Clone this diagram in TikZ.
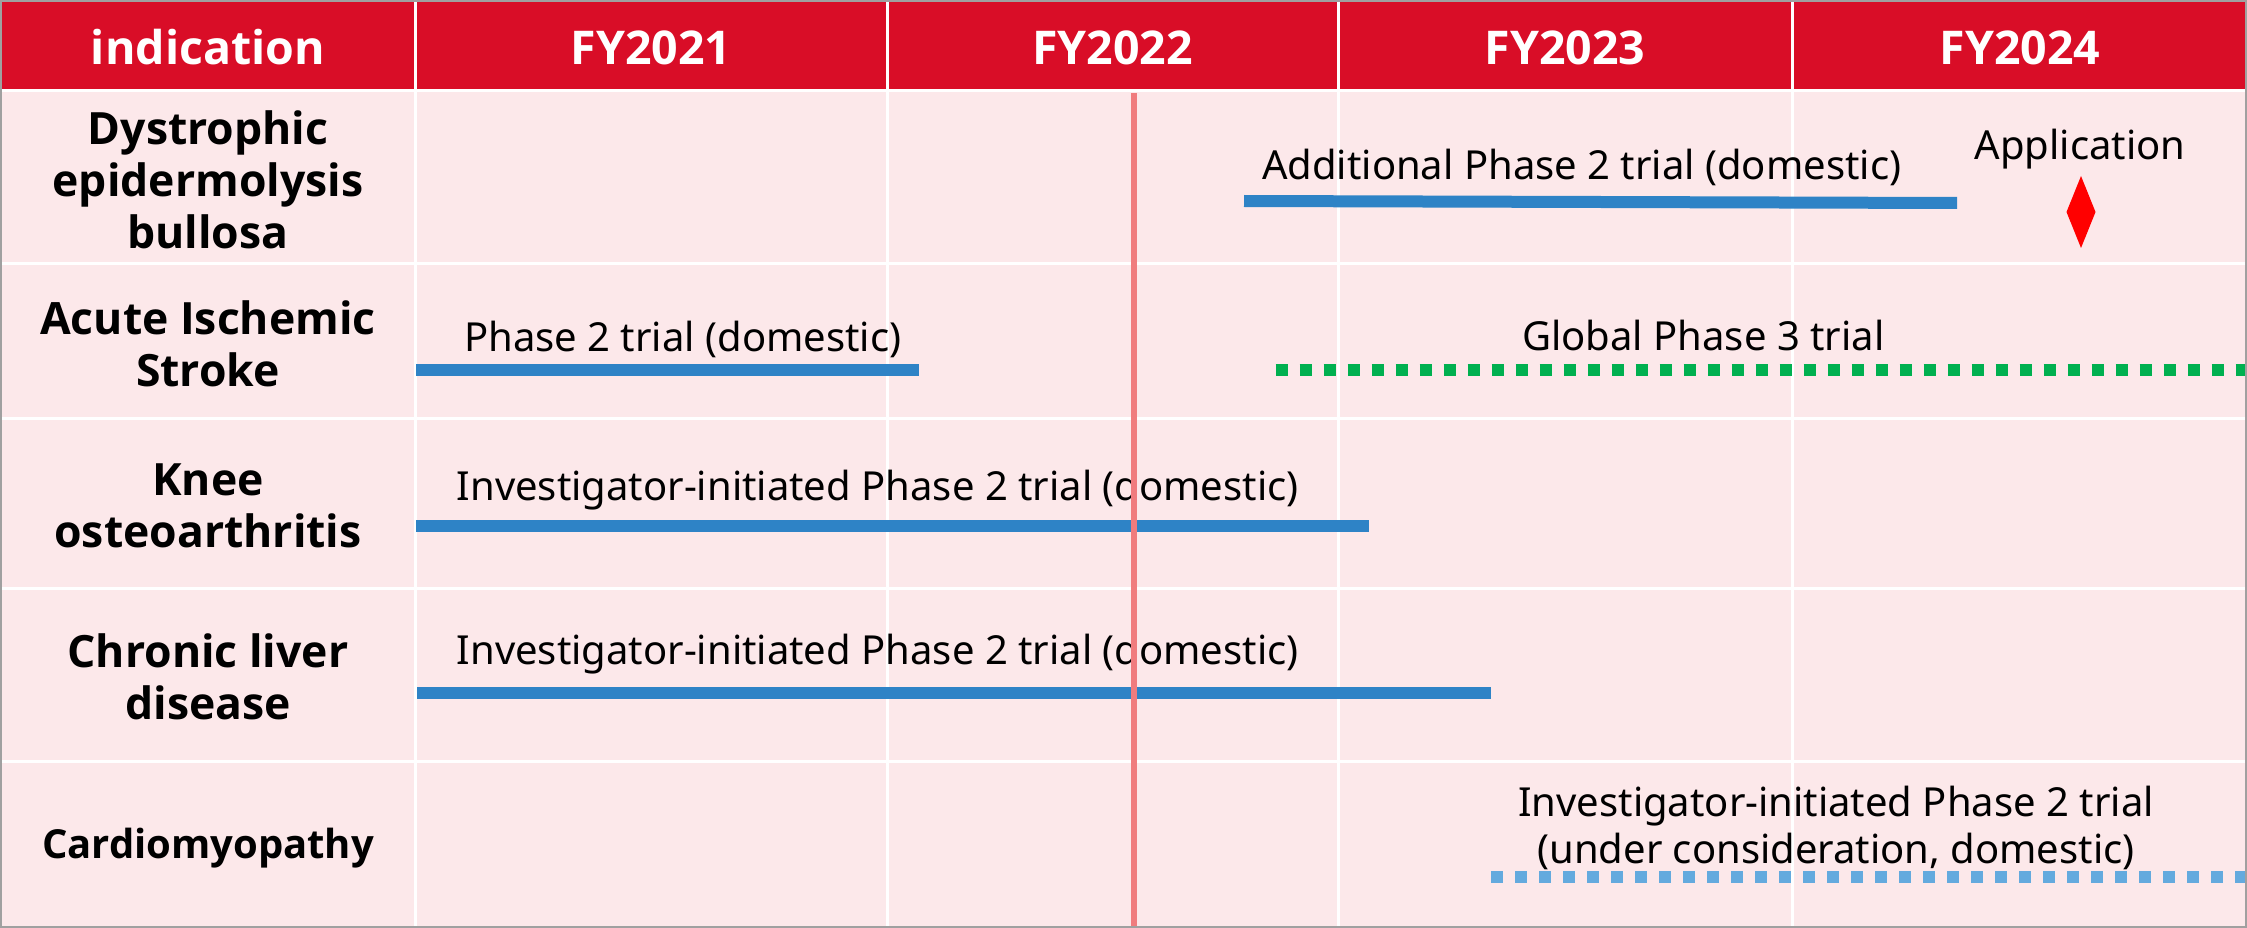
\documentclass[tikz,border=0pt]{standalone}
\usepackage{fontspec}
\setmainfont{Noto Sans}
\newfontfamily\osans{Open Sans}
\definecolor{hdrred}{RGB}{217,13,39}
\definecolor{cellpink}{RGB}{252,232,234}
\definecolor{barblue}{RGB}{46,131,198}
\definecolor{bargreen}{RGB}{0,176,80}
\definecolor{barlight}{RGB}{100,170,222}
\definecolor{nowred}{RGB}{240,124,126}
\definecolor{framegray}{RGB}{160,160,160}
\tikzset{
  hdrtext/.style={text=white, font=\osans\bfseries\fontsize{46.5}{54}\selectfont, inner sep=0pt, anchor=base},
  rowlabel/.style={text=black, font=\osans\bfseries\fontsize{44.5}{52}\selectfont, inner sep=0pt, align=center},
  smalllabel/.style={text=black, font=\osans\bfseries\fontsize{40}{51}\selectfont, inner sep=0pt, align=center},
  bartext/.style={text=black, font=\fontsize{40}{47}\selectfont, inner sep=0pt},
  gridline/.style={white, line width=3pt},
  solidbar/.style={barblue, line width=12pt, line cap=butt},
  greenbar/.style={bargreen, line width=12pt, line cap=butt, dash pattern=on 12pt off 12pt},
  lightbar/.style={barlight, line width=12pt, line cap=butt, dash pattern=on 12pt off 12pt},
}
\begin{document}
\begin{tikzpicture}[x=1pt,y=-1pt]
\useasboundingbox (0,0) rectangle (2247,928);
% background
\fill[cellpink] (0,0) rectangle (2247,928);
\fill[hdrred] (0,0) rectangle (2247,90);
% grid
\foreach \yy in {91,264,418,588,761} \draw[gridline] (0,\yy) -- (2247,\yy);
\foreach \xx in {415.6,887,1338,1792} \draw[gridline] (\xx,0) -- (\xx,928);
% header
\node[hdrtext] (h0) at (208,65) {indication};
\node[hdrtext] (h1) at (651,65) {FY2021};
\node[hdrtext] (h2) at (1112.5,65) {FY2022};
\node[hdrtext] (h3) at (1565,65) {FY2023};
\node[hdrtext] (h4) at (2020,65) {FY2024};
% row labels
\node[rowlabel] (r1) at (208,180) {Dystrophic\\epidermolysis\\bullosa};
\node[rowlabel] (r2) at (208,344) {Acute Ischemic\\Stroke};
\node[rowlabel] (r3) at (208,506) {Knee\\osteoarthritis};
\node[rowlabel] (r4) at (208,677) {Chronic liver\\disease};
\node[smalllabel] (r5) at (208,848) {Cardiomyopathy};
% bar end points
\coordinate (a1) at (1244,201);  \coordinate (b1) at (1957,203);
\coordinate (a2) at (416,370);   \coordinate (b2) at (918.6,370);
\coordinate (a3) at (1275.7,370); \coordinate (b3) at (2247,370);
\coordinate (a4) at (416,526);   \coordinate (b4) at (1368.6,526);
\coordinate (a5) at (417,693);   \coordinate (b5) at (1491,693);
\coordinate (a6) at (1491,877);  \coordinate (b6) at (2247,877);
% bars
\draw[solidbar] (a1) -- (b1);
\draw[solidbar] (a2) -- (b2);
\draw[greenbar] (a3) -- (b3);
\draw[solidbar] (a4) -- (b4);
\draw[solidbar] (a5) -- (b5);
\draw[lightbar] (a6) -- (b6);
% bar labels
\node[bartext, anchor=base west] (t1) at (1262,180) {Additional Phase 2 trial (domestic)};
\node[bartext, anchor=base] (t1b) at (2080,160) {Application};
\node[bartext, anchor=base west] (t2) at (464,351.7) {Phase 2 trial (domestic)};
\node[bartext, anchor=base west] (t3) at (1522,350) {Global Phase 3 trial};
\node[bartext, anchor=base west] (t4) at (456.6,500) {Investigator-initiated Phase 2 trial (domestic)};
\node[bartext, anchor=base west] (t5) at (456.6,664) {Investigator-initiated Phase 2 trial (domestic)};
\node[bartext, anchor=base, align=center] (t6) at (1836,863) {Investigator-initiated Phase 2 trial\\(under consideration, domestic)};
% application milestone
\fill[red] (2081,176) -- (2095.5,212) -- (2081,248) -- (2066.5,212) -- cycle;
% current time line
\coordinate (n1) at (1134,93);
\coordinate (n2) at (1134,928);
\draw[nowred, line width=6pt] (n1) -- (n2);
% frame
\draw[framegray, line width=2pt] (1,1) rectangle (2246,927);
\end{tikzpicture}
\end{document}
